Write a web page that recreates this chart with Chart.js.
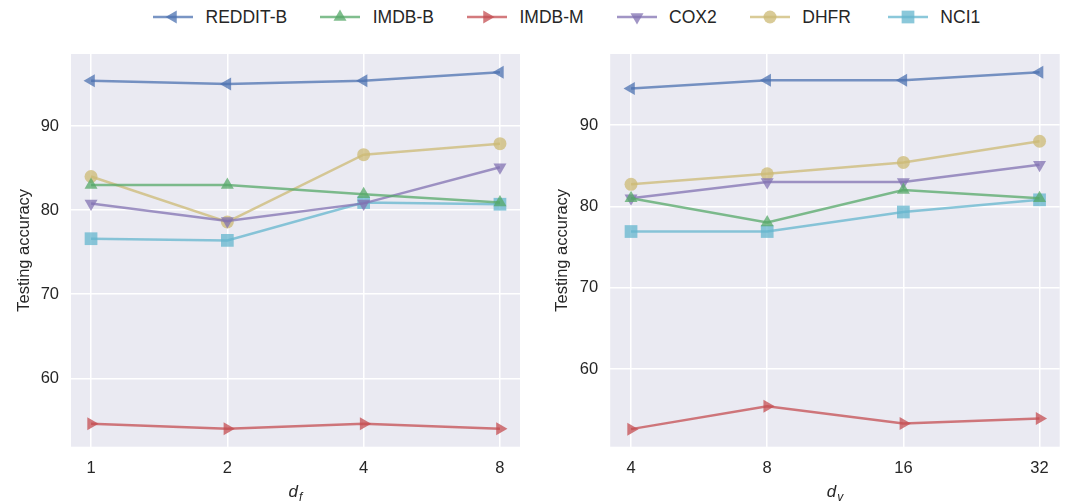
<!DOCTYPE html>
<html>
<head>
<meta charset="utf-8">
<script src="https://cdn.jsdelivr.net/npm/chart.js@4/dist/chart.umd.min.js"></script>
<style>
  body { margin: 0; background: #fff; width: 1065px; height: 502px; position: relative; overflow: hidden; font-family: "Liberation Sans", Arial, sans-serif; }
  #legend { position: absolute; left: 153px; top: 6px; display: flex; align-items: center; color: #262626; font-size: 17.5px; }
  .item { display: flex; align-items: center; margin-right: 33px; }
  .item:nth-child(5) { margin-right: 37px; }
  .item canvas { margin-right: 12.5px; }
  #left { position: absolute; left: 0; top: 40px; }
  #right { position: absolute; left: 530px; top: 40px; }
</style>
</head>
<body>
<div id="legend"></div>
<canvas id="left" width="530" height="462"></canvas>
<canvas id="right" width="540" height="462"></canvas>
<script>
const names = ['REDDIT-B', 'IMDB-B', 'IMDB-M', 'COX2', 'DHFR', 'NCI1'];
const leftLabels = ['1', '2', '4', '8'];
const rightLabels = ['4', '8', '16', '32'];
const yTicks = [60, 70, 80, 90];

// d_f sweep
const leftReddit = [95.4, 95.0, 95.4, 96.4];
const leftImdbB = [83.0, 83.0, 81.9, 80.9];
const leftImdbM = [54.6, 54.0, 54.6, 54.0];
const leftCox2 = [80.8, 78.7, 80.8, 85.1];
const leftDhfr = [84.0, 78.6, 86.6, 87.9];
const leftNci1 = [76.6, 76.4, 80.9, 80.7];

// d_v sweep
const rightReddit = [94.5, 95.5, 95.5, 96.5];
const rightImdbB = [81.0, 78.0, 82.0, 81.0];
const rightImdbM = [52.6, 55.4, 53.3, 53.9];
const rightCox2 = [81.0, 83.0, 83.0, 85.1];
const rightDhfr = [82.7, 84.0, 85.4, 88.0];
const rightNci1 = [76.9, 76.9, 79.3, 80.8];

const colors = ['76,114,176', '85,168,104', '196,78,82', '129,114,178', '204,185,116', '100,181,205'];
const markers = [
  { style: 'triangle', rot: 270, r: 7.5 },
  { style: 'triangle', rot: 0, r: 7.5 },
  { style: 'triangle', rot: 90, r: 7.5 },
  { style: 'triangle', rot: 180, r: 7.5 },
  { style: 'circle', rot: 0, r: 6.5 },
  { style: 'rect', rot: 0, r: 9 },
];
const alpha = 0.75;
const ink = '#262626';
const font = '"Liberation Sans", Arial, sans-serif';

// legend (html text + canvas symbols)
const legend = document.getElementById('legend');
names.forEach((n, i) => {
  const item = document.createElement('div');
  item.className = 'item';
  const c = document.createElement('canvas');
  c.width = 40; c.height = 22;
  const g = c.getContext('2d');
  g.strokeStyle = g.fillStyle = `rgba(${colors[i]},${alpha})`;
  g.lineWidth = 2.5;
  g.beginPath(); g.moveTo(0, 11); g.lineTo(40, 11); g.stroke();
  Chart.helpers.drawPoint(g, { pointStyle: markers[i].style, rotation: markers[i].rot, radius: markers[i].r, borderWidth: 0 }, 20, 11);
  const s = document.createElement('span');
  s.textContent = n;
  item.appendChild(c); item.appendChild(s);
  legend.appendChild(item);
});

const panel = {
  id: 'panel',
  beforeDraw(chart, args, opts) {
    const { ctx, chartArea: { left, top, right, bottom } } = chart;
    ctx.save();
    ctx.fillStyle = '#EAEAF2';
    ctx.fillRect(left, top, right - left, bottom - top);
    ctx.restore();
  },
  afterDraw(chart, args, opts) {
    const { ctx, chartArea: { left, top, right, bottom } } = chart;
    ctx.save();
    ctx.fillStyle = ink;
    // y title
    ctx.translate(opts.yTitleX, (top + bottom) / 2);
    ctx.rotate(-Math.PI / 2);
    ctx.textAlign = 'center';
    ctx.textBaseline = 'middle';
    ctx.font = `16.5px ${font}`;
    ctx.fillText(opts.yTitle, 0, 0);
    ctx.setTransform(1, 0, 0, 1, 0, 0);
    // x title with subscript
    ctx.textBaseline = 'alphabetic';
    ctx.textAlign = 'left';
    ctx.font = `italic 17px ${font}`;
    const wd = ctx.measureText('d').width;
    ctx.font = `italic 12px ${font}`;
    const ws = ctx.measureText(opts.sub).width;
    const x0 = (left + right) / 2 - (wd + ws + 1) / 2;
    ctx.font = `italic 17px ${font}`;
    ctx.fillText('d', x0, opts.xTitleY);
    ctx.font = `italic 12px ${font}`;
    ctx.fillText(opts.sub, x0 + wd + 1, opts.xTitleY + 4);
    ctx.restore();
  },
};

function makeDatasets(series) {
  return series.map((vals, i) => ({
    label: names[i],
    data: vals.map((v, k) => ({ x: k, y: v })),
    borderColor: `rgba(${colors[i]},${alpha})`,
    backgroundColor: `rgba(${colors[i]},${alpha})`,
    borderWidth: 2.5,
    pointStyle: markers[i].style,
    pointRotation: markers[i].rot,
    pointRadius: markers[i].r,
    pointBorderWidth: 0,
    pointBackgroundColor: `rgba(${colors[i]},${alpha})`,
    tension: 0,
    clip: false,
  }));
}

function noPad(scale) {
  scale.paddingTop = 0; scale.paddingBottom = 0;
  scale.paddingLeft = 0; scale.paddingRight = 0;
}

function makeChart(id, labels, series, o) {
  return new Chart(document.getElementById(id), {
    type: 'line',
    data: { datasets: makeDatasets(series) },
    options: {
      responsive: false,
      animation: false,
      devicePixelRatio: 1,
      layout: { padding: { top: 14, right: o.padRight, left: 0, bottom: 0 } },
      plugins: {
        legend: { display: false },
        tooltip: { enabled: false },
        panel: { yTitle: 'Testing accuracy', yTitleX: o.yTitleX, sub: o.sub, xTitleY: 457 },
      },
      scales: {
        x: {
          type: 'linear',
          min: o.xMin, max: o.xMax,
          afterFit(scale) { scale.height = 55.3; noPad(scale); },
          afterBuildTicks(scale) { scale.ticks = labels.map((l, k) => ({ value: k })); },
          ticks: { callback: (v) => labels[v], color: ink, font: { size: 16.5, family: font }, padding: 12, autoSkip: false, maxRotation: 0 },
          grid: { color: '#ffffff', lineWidth: 1.5, drawTicks: false },
          border: { display: false },
        },
        y: {
          min: o.yMin, max: o.yMax,
          afterFit(scale) { scale.width = o.yWidth; noPad(scale); },
          afterBuildTicks(scale) { scale.ticks = yTicks.map((v) => ({ value: v })); },
          ticks: { color: ink, font: { size: 16.5, family: font }, padding: 12 },
          grid: { color: '#ffffff', lineWidth: 1.5, drawTicks: false },
          border: { display: false },
        },
      },
    },
    plugins: [panel],
  });
}

makeChart('left', leftLabels,
  [leftReddit, leftImdbB, leftImdbM, leftCox2, leftDhfr, leftNci1],
  { xMin: -0.147, xMax: 3.147, yMin: 51.86, yMax: 98.57, yWidth: 71, padRight: 10, yTitleX: 24, sub: 'f' });

// right canvas runs 5px past the window so the plot edge lands at ~1060
makeChart('right', rightLabels,
  [rightReddit, rightImdbB, rightImdbM, rightCox2, rightDhfr, rightNci1],
  { xMin: -0.153, xMax: 3.148, yMin: 50.44, yMax: 98.73, yWidth: 80.2, padRight: 10.3, yTitleX: 32, sub: 'v' });
</script>
</body>
</html>
